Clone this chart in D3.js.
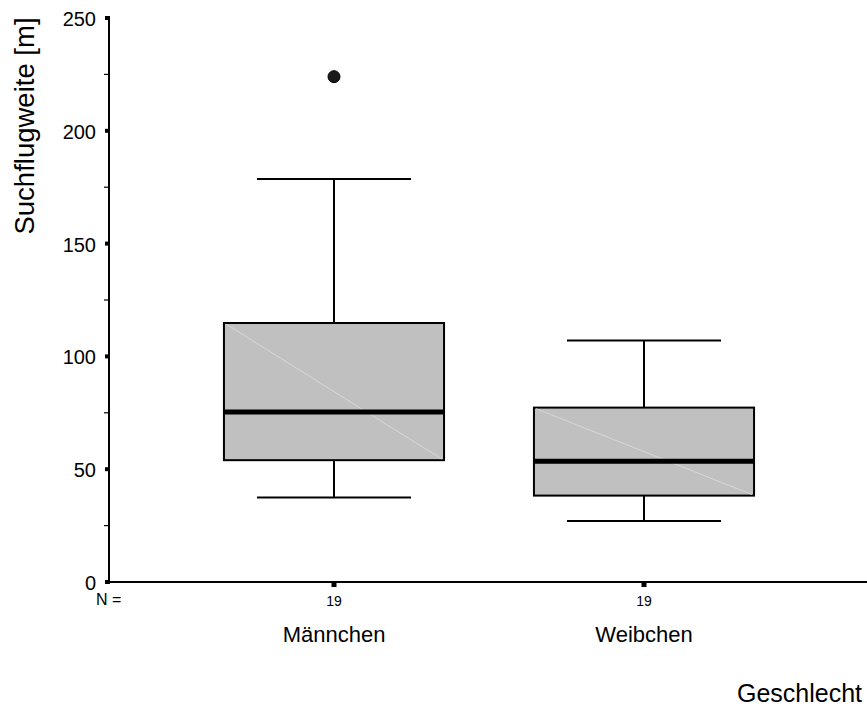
<!DOCTYPE html>
<html>
<head>
<meta charset="utf-8">
<script src="https://cdn.jsdelivr.net/npm/d3@7"></script>
<style>
  html, body { margin: 0; padding: 0; background: #fff; }
  svg { display: block; font-family: "Liberation Sans", Arial, sans-serif; }
</style>
</head>
<body>
<svg id="chart" width="867" height="713"></svg>
<script>
// ---- data ----
const categories = ["Männchen", "Weibchen"];
const counts = [19, 19];
const whiskerLow = [37.5, 27];
const q1 = [54, 38.3];
const median = [75.3, 53.5];
const q3 = [114.8, 77.3];
const whiskerHigh = [178.6, 107];
const outliers = [[224], []];
const yTicks = [0, 50, 100, 150, 200, 250];
const yMinorTicks = [25, 75, 125, 175, 225];

const svg = d3.select("#chart");
const y = d3.scaleLinear().domain([0, 250]).range([582, 18]);
const x = d3.scaleBand().domain(categories).range([179, 799]).padding(0);
const cx = c => x(c) + x.bandwidth() / 2;
const boxW = x.bandwidth() * 0.71;
const capW = boxW * 0.7;

// axes lines
svg.append("line").attr("x1", 109).attr("x2", 109).attr("y1", y(250)).attr("y2", y(0))
  .attr("stroke", "#000").attr("stroke-width", 2);
svg.append("line").attr("x1", 108).attr("x2", 867).attr("y1", y(0)).attr("y2", y(0))
  .attr("stroke", "#000").attr("stroke-width", 2);

// y ticks
svg.selectAll(".ytick").data(yTicks).enter().append("rect")
  .attr("x", 105).attr("y", d => y(d) - 2).attr("width", 5).attr("height", 4).attr("fill", "#000");
svg.selectAll(".yminor").data(yMinorTicks).enter().append("line")
  .attr("x1", 104).attr("x2", 109).attr("y1", d => y(d)).attr("y2", d => y(d))
  .attr("stroke", "#000").attr("stroke-width", 1.2);
svg.selectAll(".ylab").data(yTicks).enter().append("text")
  .attr("x", 96).attr("y", d => y(d) + 8)
  .attr("text-anchor", "end").attr("font-size", 20).text(d => d);

// y title
svg.append("text")
  .attr("transform", "translate(34,126) rotate(-90)")
  .attr("text-anchor", "middle").attr("font-size", 27.5)
  .text("Suchflugweite [m]");

// x ticks & labels
svg.selectAll(".xtick").data(categories).enter().append("rect")
  .attr("x", d => cx(d) - 2.5).attr("y", y(0)).attr("width", 5).attr("height", 5).attr("fill", "#000");
svg.append("text").attr("x", 96).attr("y", 605).attr("font-size", 16).text("N =");
svg.selectAll(".nlab").data(categories).enter().append("text")
  .attr("x", d => cx(d)).attr("y", 606).attr("text-anchor", "middle").attr("font-size", 14)
  .text((d, i) => counts[i]);
svg.selectAll(".clab").data(categories).enter().append("text")
  .attr("x", d => cx(d)).attr("y", 642).attr("text-anchor", "middle").attr("font-size", 22)
  .text(d => d);
svg.append("text").attr("x", 862).attr("y", 702).attr("text-anchor", "end")
  .attr("font-size", 25).text("Geschlecht");

// boxes
const g = svg.selectAll(".box").data(categories).enter().append("g");
g.append("line").attr("x1", d => cx(d)).attr("x2", d => cx(d))
  .attr("y1", (d, i) => y(whiskerHigh[i])).attr("y2", (d, i) => y(q3[i]))
  .attr("stroke", "#000").attr("stroke-width", 2);
g.append("line").attr("x1", d => cx(d)).attr("x2", d => cx(d))
  .attr("y1", (d, i) => y(q1[i])).attr("y2", (d, i) => y(whiskerLow[i]))
  .attr("stroke", "#000").attr("stroke-width", 2);
g.append("line").attr("x1", d => cx(d) - capW / 2).attr("x2", d => cx(d) + capW / 2)
  .attr("y1", (d, i) => y(whiskerHigh[i])).attr("y2", (d, i) => y(whiskerHigh[i]))
  .attr("stroke", "#000").attr("stroke-width", 2);
g.append("line").attr("x1", d => cx(d) - capW / 2).attr("x2", d => cx(d) + capW / 2)
  .attr("y1", (d, i) => y(whiskerLow[i])).attr("y2", (d, i) => y(whiskerLow[i]))
  .attr("stroke", "#000").attr("stroke-width", 2);
g.append("rect").attr("x", d => cx(d) - boxW / 2).attr("width", boxW)
  .attr("y", (d, i) => y(q3[i])).attr("height", (d, i) => y(q1[i]) - y(q3[i]))
  .attr("fill", "#c0c0c0").attr("stroke", "#000").attr("stroke-width", 2);
g.append("line").attr("x1", d => cx(d) - boxW / 2 + 2).attr("x2", d => cx(d) + boxW / 2 - 2)
  .attr("y1", (d, i) => y(q3[i]) + 1).attr("y2", (d, i) => y(q1[i]) - 1)
  .attr("stroke", "#dcdcdc").attr("stroke-width", 0.8);
g.append("line").attr("x1", d => cx(d) - boxW / 2).attr("x2", d => cx(d) + boxW / 2)
  .attr("y1", (d, i) => y(median[i])).attr("y2", (d, i) => y(median[i]))
  .attr("stroke", "#000").attr("stroke-width", 5);

// outliers
categories.forEach((c, i) => {
  svg.selectAll(null).data(outliers[i]).enter().append("circle")
    .attr("cx", cx(c)).attr("cy", d => y(d)).attr("r", 6)
    .attr("fill", "#1a1a1a").attr("stroke", "#000").attr("stroke-width", 1);
});
</script>
</body>
</html>
